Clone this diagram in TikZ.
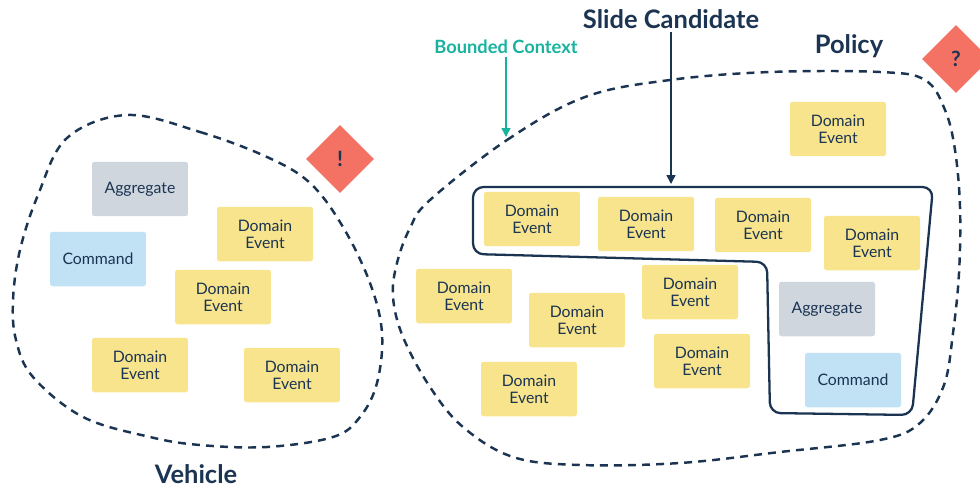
\documentclass[tikz,border=0pt]{standalone}
\usepackage{fontspec}
\setmainfont{Lato}
\usetikzlibrary{arrows.meta,shapes.geometric,positioning}

\definecolor{navy}{HTML}{1B3452}
\definecolor{sticky}{HTML}{F7E48C}
\definecolor{aggr}{HTML}{CFD6DE}
\definecolor{cmd}{HTML}{C1E1F5}
\definecolor{hot}{HTML}{F37264}
\definecolor{bcteal}{HTML}{17B39F}

\tikzset{
  note/.style={rounded corners=1.5pt, minimum width=1.92cm, minimum height=1.09cm,
    inner sep=0pt, align=center, text=navy, font=\fontsize{9}{9.6}\selectfont},
  event/.style={note, fill=sticky},
  aggregate/.style={note, fill=aggr},
  command/.style={note, fill=cmd},
  hotspot/.style={diamond, fill=hot, minimum width=1.36cm, minimum height=1.36cm,
    inner sep=0pt, text=navy, font=\bfseries\fontsize{12}{12}\selectfont},
  context/.style={navy, line width=1.4pt, dash pattern=on 4.5pt off 3.5pt},
  title/.style={text=navy, inner sep=2pt, font=\bfseries\fontsize{14.5}{14.5}\selectfont},
}

\begin{document}
\begin{tikzpicture}[x=0.02cm, y=-0.02cm, >={Triangle[width=5pt,length=5pt]}]
  \useasboundingbox (0,0) rectangle (980,487);

  % bounded contexts
  \draw[context] plot[smooth cycle, tension=0.6] coordinates {
    (127,115) (200,132) (267,157) (310,183) (343,227) (370,283) (382,333)
    (377,383) (360,417) (333,437) (267,447) (200,445) (150,437) (83,417)
    (33,377) (16,340) (13,300) (20,250) (38,195) (67,138)};
  \draw[context] plot[smooth cycle, tension=0.6] coordinates {
    (430,200) (507,140) (585,97) (670,80) (770,72) (880,72) (925,80)
    (945,110) (955,150) (960,207) (959,273) (953,333) (944,385) (920,423)
    (880,440) (780,452) (680,463) (580,465) (513,457) (463,427) (430,387)
    (403,337) (393,297) (397,263) (410,228)};

  % slide candidate outline
  \draw[navy, line width=1.3pt, rounded corners=6pt]
    (473,187) -- (933,187) -- (912,415) -- (770,413) -- (767,262) -- (473,254) -- cycle;

  % Vehicle
  \node[aggregate] (vagg) at (140,189) {Aggregate};
  \node[command] (vcmd) at (98,259) {Command};
  \foreach \x/\y [count=\i] in {265/234, 223/297, 140/365, 292/375}
    \node[event] (vev\i) at (\x,\y) {Domain\\Event};
  \node[hotspot] (vhot) at (340,159) {!};
  \node[title, anchor=base] (vehicle) at (196,483) {Vehicle};

  % Policy
  \foreach \x/\y [count=\i] in {532/219, 646/224, 763/225, 872/243, 838/129,
      464/296, 577/320, 690/292, 702/361, 529/389}
    \node[event] (pev\i) at (\x,\y) {Domain\\Event};
  \node[aggregate] (pagg) at (827,309) {Aggregate};
  \node[command] (pcmd) at (853,380) {Command};
  \node[hotspot] (phot) at (956,59) {?};
  \node[title, anchor=base] (policy) at (849,53) {Policy};

  % callouts
  \node[title, anchor=base] (slidecand) at (671,28) {Slide Candidate};
  \node[text=bcteal, inner sep=2pt, anchor=base, font=\bfseries\fontsize{10.4}{10.4}\selectfont]
    (bclabel) at (506,53) {Bounded Context};
  \coordinate (candtop) at (671,184);
  \coordinate (bctip) at (506,137);
  \draw[->, navy, line width=0.8pt] (slidecand.south) -- (candtop);
  \draw[->, bcteal, line width=0.8pt] (bclabel.south) -- (bctip);
\end{tikzpicture}
\end{document}
